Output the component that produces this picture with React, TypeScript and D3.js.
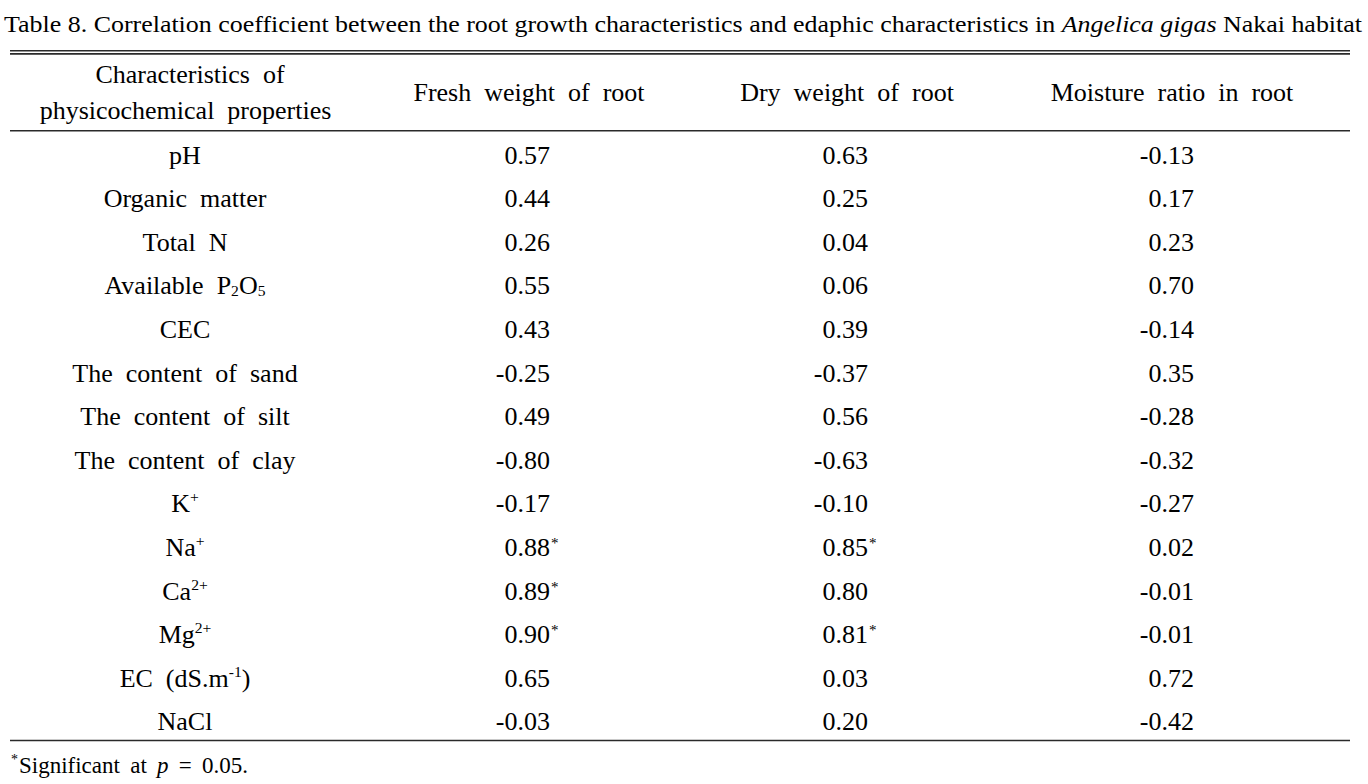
import React from "react";
import * as d3 from "d3";

const titlePre = "Table 8. Correlation coefficient between the root growth characteristics and edaphic characteristics in ";
const titleItalic = "Angelica gigas";
const titlePost = " Nakai habitat";

const headerLabel = ["Characteristics of", "physicochemical properties"];
const columns = ["Fresh weight of root", "Dry weight of root", "Moisture ratio in root"];

const properties = [
  "pH",
  "Organic matter",
  "Total N",
  "Available P_{2}O_{5}",
  "CEC",
  "The content of sand",
  "The content of silt",
  "The content of clay",
  "K^{+}",
  "Na^{+}",
  "Ca^{2+}",
  "Mg^{2+}",
  "EC (dS.m^{-1})",
  "NaCl",
];

const freshWeight = [0.57, 0.44, 0.26, 0.55, 0.43, -0.25, 0.49, -0.8, -0.17, 0.88, 0.89, 0.9, 0.65, -0.03];
const dryWeight = [0.63, 0.25, 0.04, 0.06, 0.39, -0.37, 0.56, -0.63, -0.1, 0.85, 0.8, 0.81, 0.03, 0.2];
const moistureRatio = [-0.13, 0.17, 0.23, 0.7, -0.14, 0.35, -0.28, -0.32, -0.27, 0.02, -0.01, -0.01, 0.72, -0.42];
const freshSignificant = [false, false, false, false, false, false, false, false, false, true, true, true, false, false];
const drySignificant = [false, false, false, false, false, false, false, false, false, true, false, true, false, false];

const footnote = "Significant at ";
const footnoteP = "p";
const footnoteRest = " = 0.05.";

const FONT = "'Liberation Serif', 'Times New Roman', serif";
const FS = 26;
const WS = 6.5;

function renderRich(s: string, fs: number) {
  const parts: React.ReactNode[] = [];
  const re = /([_^])\{([^}]*)\}/g;
  let last = 0;
  let m: RegExpExecArray | null;
  let k = 0;
  while ((m = re.exec(s))) {
    if (m.index > last) {
      parts.push(<tspan key={k++}>{s.slice(last, m.index)}</tspan>);
    }
    const sup = m[1] === "^";
    parts.push(
      <tspan key={k++} fontSize={fs * 0.6} baselineShift={sup ? "60%" : "-15%"}>
        {m[2]}
      </tspan>
    );
    last = m.index + m[0].length;
  }
  if (last < s.length) parts.push(<tspan key={k++}>{s.slice(last)}</tspan>);
  return parts;
}

export default function App() {
  const W = 1368;
  const H = 784;
  const y = d3.scalePoint<string>().domain(properties).range([163.5, 163.5 + 13 * 43.6]);
  const colRight = [550, 868, 1194];
  const colCenter = [529, 847, 1172];
  const labelX = 185;
  const series = [freshWeight, dryWeight, moistureRatio];
  const sig = [freshSignificant, drySignificant, properties.map(() => false)];
  const fmt = (v: number) => d3.format(".2f")(v).replace("\u2212", "-");
  const lineColor = "#2a2a2a";

  return (
    <svg width={W} height={H} style={{ position: "absolute", left: 0, top: 0, background: "#fff" }}>
      <rect width={W} height={H} fill="#fff" />
      <g fontFamily={FONT} fill="#000">
        <text x={4} y={32} fontSize={24} textLength={1358} lengthAdjust="spacingAndGlyphs">
          {titlePre}
          <tspan fontStyle="italic">{titleItalic}</tspan>
          {titlePost}
        </text>

        <line x1={10} x2={1350} y1={50.7} y2={50.7} stroke={lineColor} strokeWidth={1.6} />
        <line x1={10} x2={1350} y1={53.9} y2={53.9} stroke={lineColor} strokeWidth={1.6} />
        <line x1={10} x2={1350} y1={130.8} y2={130.8} stroke={lineColor} strokeWidth={1.6} />
        <line x1={10} x2={1350} y1={740.5} y2={740.5} stroke={lineColor} strokeWidth={1.6} />

        <text x={190} y={83} fontSize={FS} textAnchor="middle" wordSpacing={WS}>{headerLabel[0]}</text>
        <text x={185.5} y={119} fontSize={FS} textAnchor="middle" wordSpacing={WS}>{headerLabel[1]}</text>
        {columns.map((c, i) => (
          <text key={c} x={colCenter[i]} y={101} fontSize={FS} textAnchor="middle" wordSpacing={WS}>
            {c}
          </text>
        ))}

        {properties.map((p) => (
          <text key={p} x={labelX} y={y(p)} fontSize={FS} textAnchor="middle" wordSpacing={WS}>
            {renderRich(p, FS)}
          </text>
        ))}

        {series.map((vals, ci) =>
          vals.map((v, ri) => (
            <g key={ci + "-" + ri}>
              <text x={colRight[ci]} y={y(properties[ri])} fontSize={FS} textAnchor="end">
                {fmt(v)}
              </text>
              {sig[ci][ri] && (
                <text x={colRight[ci] + 1} y={(y(properties[ri]) as number) - 8} fontSize={15}>
                  *
                </text>
              )}
            </g>
          ))
        )}

        <text x={11} y={764} fontSize={14}>*</text>
        <text x={19} y={773} fontSize={23} wordSpacing={4.5}>
          {footnote}
          <tspan fontStyle="italic">{footnoteP}</tspan>
          {footnoteRest}
        </text>
      </g>
    </svg>
  );
}
